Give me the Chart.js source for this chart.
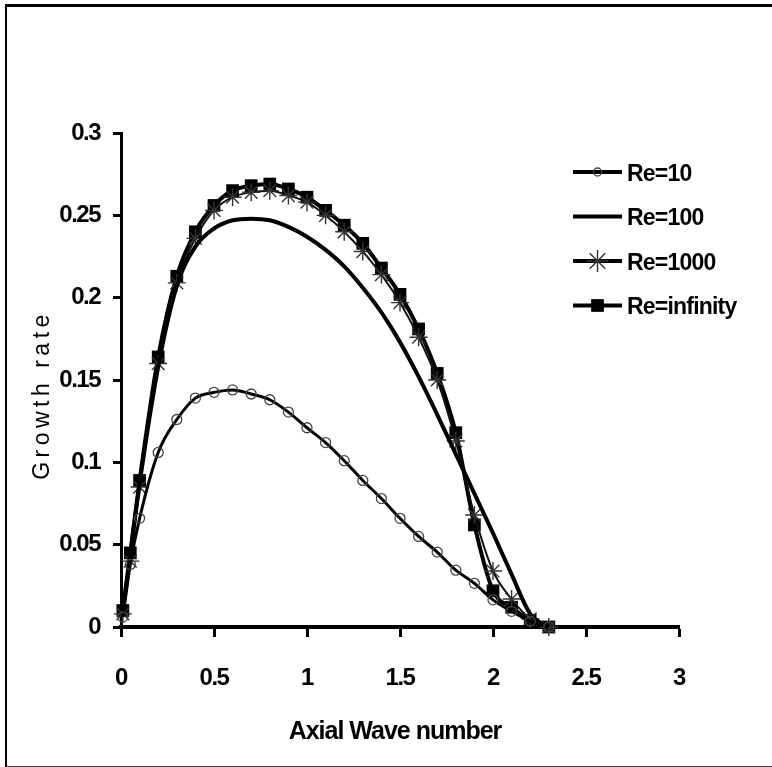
<!DOCTYPE html>
<html>
<head>
<meta charset="utf-8">
<script src="https://cdn.jsdelivr.net/npm/chart.js@4.4.1/dist/chart.umd.min.js"></script>
<style>
  html, body { margin: 0; padding: 0; background: #fff; }
  #wrap { position: relative; width: 772px; height: 767px; overflow: hidden; }
  #frame { position: absolute; left: 5px; top: 4px; width: 780px; height: 759px;
           border-top: 3px solid #000; border-left: 2px solid #000; border-bottom: 2px solid #444;
           pointer-events: none; }
  canvas { position: absolute; left: 0; top: 0; }
</style>
</head>
<body>
<div id="wrap">
  <canvas id="c" width="772" height="767"></canvas>
  <div id="frame"></div>
</div>
<script>
// ---- data ----
const waveNumbers = [0.01, 0.05, 0.1, 0.2, 0.3, 0.4, 0.5, 0.6, 0.7, 0.8, 0.9, 1.0, 1.1, 1.2, 1.3, 1.4, 1.5, 1.6, 1.7, 1.8, 1.9, 2.0, 2.1, 2.2, 2.3];
const re10    = [0.006, 0.038, 0.066, 0.106, 0.126, 0.139, 0.1425, 0.144, 0.1415, 0.138, 0.1305, 0.121, 0.112, 0.101, 0.089, 0.078, 0.066, 0.055, 0.0455, 0.0345, 0.0265, 0.0165, 0.0095, 0.0035, 0];
const re100   = [0.010, 0.044, 0.087, 0.158, 0.207, 0.231, 0.242, 0.247, 0.248, 0.247, 0.243, 0.237, 0.229, 0.219, 0.206, 0.191, 0.173, 0.152, 0.129, 0.105, 0.081, 0.057, 0.032, 0.008, 0];
const re1000  = [0.008, 0.040, 0.085, 0.160, 0.209, 0.236, 0.253, 0.261, 0.264, 0.265, 0.262, 0.258, 0.250, 0.240, 0.228, 0.214, 0.197, 0.176, 0.150, 0.113, 0.068, 0.034, 0.017, 0.005, 0];
const reInf   = [0.010, 0.045, 0.089, 0.164, 0.213, 0.240, 0.256, 0.265, 0.268, 0.269, 0.266, 0.261, 0.253, 0.244, 0.233, 0.218, 0.202, 0.181, 0.154, 0.118, 0.062, 0.022, 0.012, 0.004, 0];
const seriesLabels = ['Re=10', 'Re=100', 'Re=1000', 'Re=infinity'];
const xTickLabels = ['0', '0.5', '1', '1.5', '2', '2.5', '3'];
const yTickLabels = ['0', '0.05', '0.1', '0.15', '0.2', '0.25', '0.3'];
const xTitle = 'Axial Wave number';
const yTitle = 'Growth rate';

const FAMILY = "'Liberation Sans', Arial, sans-serif";

function pts(vals) { return waveNumbers.map((x, i) => ({ x: x, y: vals[i] })); }

function drawMarker(ctx, style, x, y, r, fill, stroke, bw) {
  ctx.save();
  ctx.fillStyle = fill; ctx.strokeStyle = stroke; ctx.lineWidth = bw;
  ctx.beginPath();
  if (style === 'circle') {
    ctx.arc(x, y, r, 0, Math.PI * 2);
    ctx.stroke();
  } else if (style === 'rect') {
    const s = Math.SQRT1_2 * r;
    ctx.fillRect(x - s, y - s, 2 * s, 2 * s);
  } else if (style === 'star') {
    const d = r * Math.SQRT1_2;
    ctx.moveTo(x, y - r); ctx.lineTo(x, y + r);
    ctx.moveTo(x - r, y); ctx.lineTo(x + r, y);
    ctx.moveTo(x - d, y - d); ctx.lineTo(x + d, y + d);
    ctx.moveTo(x - d, y + d); ctx.lineTo(x + d, y - d);
    ctx.stroke();
  }
  ctx.restore();
}

// narrow look for the tick labels (reference uses a condensed bold face)
const narrowPlugin = {
  id: 'narrowText',
  beforeDraw(chart) { try { chart.ctx.letterSpacing = '-1.5px'; } catch (e) {} }
};

const legendPlugin = {
  id: 'lineLegend',
  afterDraw(chart) {
    const ctx = chart.ctx;
    const x0 = 573, x1 = 622, y0 = 172, dy = 44.5;
    chart.data.datasets.forEach((ds, i) => {
      const y = y0 + i * dy;
      ctx.save();
      ctx.strokeStyle = '#000';
      ctx.lineWidth = 4;
      ctx.beginPath(); ctx.moveTo(x0, y); ctx.lineTo(x1, y); ctx.stroke();
      if (ds.pointRadius > 0) {
        drawMarker(ctx, ds.pointStyle, (x0 + x1) / 2, y, ds.legendRadius,
                   ds.pointBackgroundColor, ds.pointBorderColor, ds.pointBorderWidth);
      }
      ctx.fillStyle = '#000';
      ctx.font = 'bold 23px ' + FAMILY;
      try { ctx.letterSpacing = '-0.8px'; } catch (e) {}
      ctx.textAlign = 'left';
      ctx.textBaseline = 'alphabetic';
      ctx.fillText(ds.label, 627, y + 8.5);
      ctx.restore();
    });
  }
};

const titlePlugin = {
  id: 'axisTitles',
  afterDraw(chart) {
    const ctx = chart.ctx;
    ctx.save();
    ctx.fillStyle = '#000';
    ctx.textAlign = 'center';
    ctx.textBaseline = 'alphabetic';
    ctx.font = 'bold 25px ' + FAMILY;
    try { ctx.letterSpacing = '-1px'; } catch (e) {}
    ctx.fillText(xTitle, 395, 739);
    ctx.restore();

    ctx.save();
    ctx.fillStyle = '#000';
    ctx.translate(49, 395);
    ctx.rotate(-Math.PI / 2);
    ctx.textAlign = 'center';
    ctx.textBaseline = 'alphabetic';
    ctx.font = '23px ' + FAMILY;
    try { ctx.letterSpacing = '4.5px'; } catch (e) {}
    ctx.fillText(yTitle, 0, 0);
    ctx.restore();
  }
};

new Chart(document.getElementById('c'), {
  type: 'line',
  data: {
    datasets: [
      { label: seriesLabels[0], data: pts(re10), borderColor: '#000', borderWidth: 3,
        pointStyle: 'circle', pointRadius: 5, legendRadius: 4, pointBorderWidth: 1.3,
        pointBorderColor: '#444', pointBackgroundColor: 'rgba(0,0,0,0)' },
      { label: seriesLabels[1], data: pts(re100), borderColor: '#000', borderWidth: 4,
        pointRadius: 0, legendRadius: 0, pointBorderWidth: 0,
        pointBorderColor: '#000', pointBackgroundColor: '#000' },
      { label: seriesLabels[2], data: pts(re1000), borderColor: '#111', borderWidth: 2,
        pointStyle: 'star', pointRadius: 9, legendRadius: 11, pointBorderWidth: 1.4,
        pointBorderColor: '#333', pointBackgroundColor: '#333' },
      { label: seriesLabels[3], data: pts(reInf), borderColor: '#000', borderWidth: 4,
        pointStyle: 'rect', pointRadius: 9, legendRadius: 9, pointBorderWidth: 0,
        pointBorderColor: '#000', pointBackgroundColor: '#000' }
    ]
  },
  options: {
    responsive: false,
    animation: false,
    events: [],
    cubicInterpolationMode: 'monotone',
    clip: false,
    layout: { padding: { left: 0, right: 93, top: 133, bottom: 0 } },
    plugins: { legend: { display: false }, tooltip: { enabled: false }, title: { display: false } },
    scales: {
      x: {
        type: 'linear', min: 0, max: 3,
        afterFit(s) { s.height = 140; },
        afterBuildTicks(s) { s.ticks = xTickLabels.map(t => ({ value: parseFloat(t) })); },
        ticks: {
          autoSkip: false, maxRotation: 0, padding: 27, color: '#000',
          font: { family: FAMILY, size: 24, weight: 'bold' },
          callback: (v, i) => xTickLabels[i]
        },
        grid: { display: true, drawOnChartArea: false, drawTicks: true, tickLength: 10, tickWidth: 3, color: '#000' },
        border: { display: true, width: 4, color: '#000' }
      },
      y: {
        type: 'linear', min: 0, max: 0.3,
        afterFit(s) { s.width = 121; },
        afterBuildTicks(s) { s.ticks = yTickLabels.map(t => ({ value: parseFloat(t) })); },
        ticks: {
          autoSkip: false, padding: 13, color: '#000',
          font: { family: FAMILY, size: 24, weight: 'bold' },
          callback: (v, i) => yTickLabels[i]
        },
        grid: { display: true, drawOnChartArea: false, drawTicks: true, tickLength: 8, tickWidth: 3, color: '#000' },
        border: { display: true, width: 3, color: '#000' }
      }
    }
  },
  plugins: [narrowPlugin, legendPlugin, titlePlugin]
});
</script>
</body>
</html>
